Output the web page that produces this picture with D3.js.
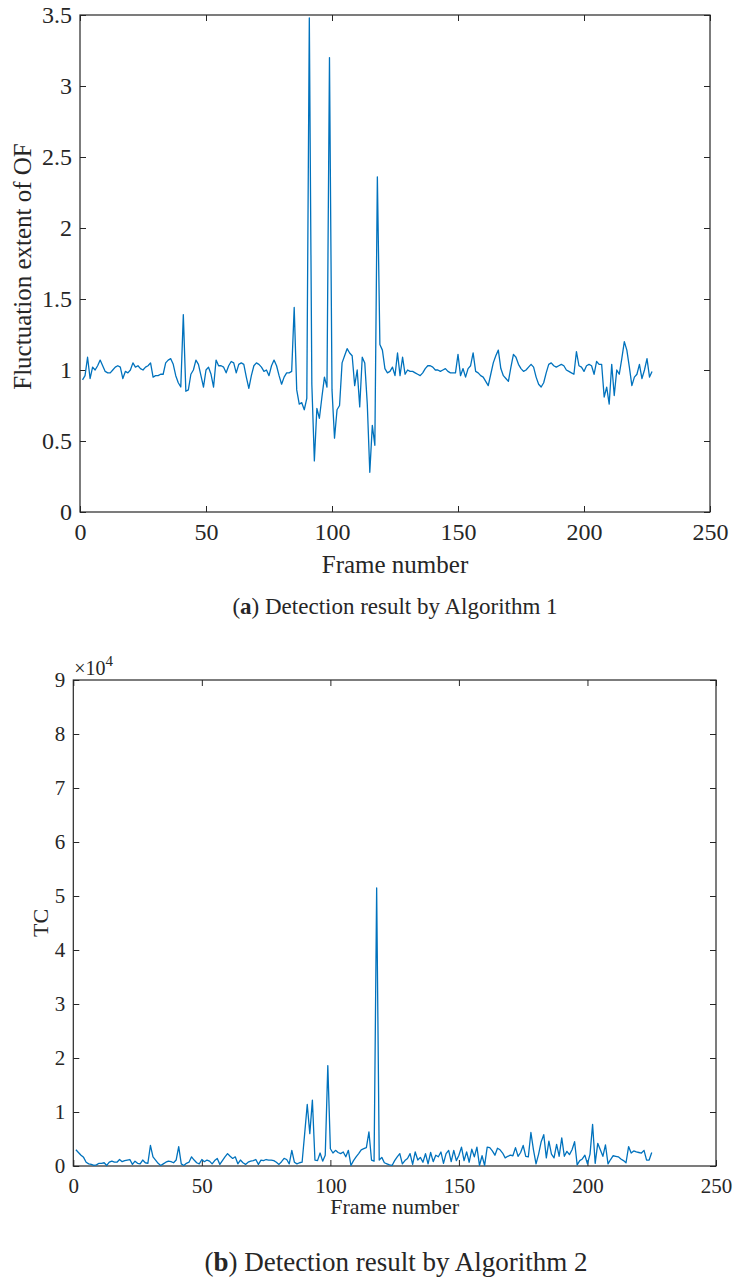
<!DOCTYPE html>
<html>
<head>
<meta charset="utf-8">
<script src="https://cdn.jsdelivr.net/npm/d3@7"></script>
<style>
  body { margin: 0; background: #fff; }
  svg text { font-family: "Liberation Serif", "Times New Roman", serif; fill: #262626; }
</style>
</head>
<body>
<svg id="chart" width="737" height="1283"></svg>
<script>
// panel (a): fluctuation extent of optical flow, frames 1..227
const ofValues = [
  0.93, 0.96, 1.09, 0.94, 1.02, 1.00, 1.03, 1.07, 1.03, 0.99,
  0.98, 0.98, 1.00, 1.02, 1.03, 1.02, 0.94, 0.99, 0.98, 1.00,
  1.05, 1.02, 1.03, 1.01, 1.00, 1.02, 1.03, 1.05, 0.95, 0.96,
  0.96, 0.97, 0.97, 1.05, 1.07, 1.08, 1.04, 0.96, 0.91, 0.88,
  1.39, 0.85, 0.86, 0.97, 1.00, 1.07, 1.04, 0.96, 0.88, 1.00,
  1.02, 0.97, 0.88, 1.07, 1.03, 1.03, 1.02, 0.98, 1.03, 1.06,
  1.05, 0.98, 1.04, 1.05, 1.04, 0.95, 0.87, 0.96, 1.03, 1.05,
  1.04, 1.02, 0.99, 1.00, 0.96, 1.03, 1.07, 1.03, 0.96, 0.90,
  0.95, 0.98, 0.98, 0.99, 1.44, 0.86, 0.76, 0.77, 0.72, 0.80,
  3.48, 0.90, 0.36, 0.73, 0.66, 0.81, 0.95, 0.88, 3.20, 0.86,
  0.52, 0.72, 0.75, 1.05, 1.10, 1.15, 1.12, 1.10, 0.89, 1.00,
  0.74, 1.09, 1.05, 0.76, 0.28, 0.61, 0.47, 2.36, 1.18, 1.14,
  1.01, 0.98, 0.99, 1.02, 0.96, 1.12, 0.96, 1.09, 0.97, 1.00,
  0.99, 0.99, 0.98, 0.97, 0.96, 0.98, 1.01, 1.03, 1.03, 1.02,
  1.00, 1.00, 0.99, 1.00, 1.01, 0.99, 0.98, 0.98, 0.98, 1.11,
  0.96, 1.01, 0.95, 1.01, 1.03, 1.12, 0.99, 0.98, 0.96, 0.95,
  0.92, 0.89, 0.97, 1.05, 1.10, 1.14, 1.01, 0.96, 0.94, 0.92,
  1.02, 1.11, 1.09, 1.04, 1.01, 0.99, 1.00, 1.02, 1.04, 1.02,
  0.95, 0.90, 0.88, 0.91, 0.98, 1.04, 1.05, 1.03, 1.02, 1.03,
  1.04, 1.03, 1.00, 0.99, 0.98, 0.97, 1.13, 1.03, 1.02, 0.99,
  1.03, 1.04, 1.03, 0.97, 1.06, 1.04, 1.04, 0.81, 0.88, 0.76,
  1.04, 0.82, 1.00, 0.97, 1.08, 1.20, 1.14, 1.02, 0.89, 0.95,
  0.97, 1.04, 0.94, 1.00, 1.08, 0.95, 0.99
];

// panel (b): TC in units of 10^4, frames 1..225
const tcValues = [
  0.30, 0.25, 0.20, 0.16, 0.07, 0.04, 0.03, 0.01, 0.02, 0.05,
  0.05, 0.06, 0.01, 0.07, 0.09, 0.07, 0.07, 0.12, 0.08, 0.10,
  0.11, 0.12, 0.03, 0.09, 0.05, 0.04, 0.11, 0.06, 0.05, 0.38,
  0.17, 0.11, 0.05, 0.01, 0.04, 0.07, 0.09, 0.08, 0.06, 0.11,
  0.36, 0.04, 0.01, 0.05, 0.07, 0.17, 0.11, 0.06, 0.04, 0.12,
  0.08, 0.11, 0.09, 0.04, 0.10, 0.14, 0.03, 0.10, 0.17, 0.23,
  0.18, 0.14, 0.17, 0.04, 0.11, 0.06, 0.03, 0.07, 0.09, 0.10,
  0.12, 0.03, 0.11, 0.10, 0.12, 0.11, 0.11, 0.10, 0.07, 0.03,
  0.08, 0.14, 0.12, 0.04, 0.29, 0.07, 0.04, 0.06, 0.07, 0.60,
  1.14, 0.60, 1.22, 0.11, 0.10, 0.24, 0.09, 0.20, 1.86, 0.32,
  0.24, 0.29, 0.25, 0.23, 0.26, 0.17, 0.29, 0.01, 0.10, 0.17,
  0.23, 0.30, 0.32, 0.34, 0.63, 0.11, 0.09, 5.15, 0.11, 0.16,
  0.06, 0.04, 0.02, 0.01, 0.10, 0.17, 0.23, 0.04, 0.10, 0.14,
  0.23, 0.03, 0.26, 0.11, 0.16, 0.07, 0.23, 0.04, 0.25, 0.08,
  0.20, 0.17, 0.26, 0.05, 0.23, 0.29, 0.08, 0.29, 0.10, 0.20,
  0.35, 0.10, 0.26, 0.07, 0.31, 0.17, 0.35, 0.01, 0.19, 0.01,
  0.35, 0.34, 0.28, 0.20, 0.33, 0.30, 0.24, 0.15, 0.18, 0.20,
  0.19, 0.34, 0.18, 0.25, 0.38, 0.18, 0.17, 0.62, 0.30, 0.04,
  0.22, 0.45, 0.58, 0.15, 0.46, 0.22, 0.15, 0.40, 0.18, 0.52,
  0.18, 0.27, 0.21, 0.30, 0.45, 0.02, 0.10, 0.13, 0.20, 0.04,
  0.22, 0.77, 0.05, 0.42, 0.30, 0.18, 0.39, 0.04, 0.12, 0.19,
  0.18, 0.17, 0.13, 0.10, 0.06, 0.36, 0.24, 0.28, 0.26, 0.25,
  0.24, 0.29, 0.11, 0.11, 0.25
];

const xTicks = [0, 50, 100, 150, 200, 250];
const ofTicks = [0, 0.5, 1, 1.5, 2, 2.5, 3, 3.5];
const tcTicks = [0, 1, 2, 3, 4, 5, 6, 7, 8, 9];

const lineColor = "#0072BD";
const axisColor = "#262626";

const svg = d3.select("#chart");
svg.append("rect").attr("width", 737).attr("height", 1283).attr("fill", "#fff");

function drawPanel(cfg) {
  const { box, values, yDomain, yTicks, yFormat, tickFont, tickPad } = cfg;

  const x = d3.scaleLinear().domain([0, 250]).range([box.left, box.right]);
  const y = d3.scaleLinear().domain(yDomain).range([box.bottom, box.top]);

  const g = svg.append("g");

  const styleAxis = sel => {
    sel.select(".domain").remove();
    sel.selectAll(".tick line").attr("stroke", axisColor).attr("stroke-width", 1);
    sel.selectAll(".tick text")
      .style("font-size", tickFont + "px")
      .attr("fill", axisColor);
  };

  g.append("g")
    .attr("transform", `translate(0,${box.bottom})`)
    .call(d3.axisBottom(x).tickValues(xTicks).tickSize(-6).tickPadding(tickPad.x).tickFormat(d3.format("d")))
    .call(styleAxis);

  g.append("g")
    .attr("transform", `translate(0,${box.top})`)
    .call(d3.axisTop(x).tickValues(xTicks).tickSize(-6).tickFormat(""))
    .call(styleAxis);

  g.append("g")
    .attr("transform", `translate(${box.left},0)`)
    .call(d3.axisLeft(y).tickValues(yTicks).tickSize(-6).tickPadding(tickPad.y).tickFormat(yFormat))
    .call(styleAxis);

  g.append("g")
    .attr("transform", `translate(${box.right},0)`)
    .call(d3.axisRight(y).tickValues(yTicks).tickSize(-6).tickFormat(""))
    .call(styleAxis);

  g.append("rect")
    .attr("x", box.left)
    .attr("y", box.top)
    .attr("width", box.right - box.left)
    .attr("height", box.bottom - box.top)
    .attr("fill", "none")
    .attr("stroke", axisColor)
    .attr("stroke-width", 1.2);

  const line = d3.line()
    .x((d, i) => x(i + 1))
    .y(d => y(d));

  g.append("path")
    .datum(values)
    .attr("fill", "none")
    .attr("stroke", lineColor)
    .attr("stroke-width", 1.3)
    .attr("stroke-linejoin", "round")
    .attr("d", line);

  return { g, x, y };
}

// panel (a)
const boxA = { left: 80, top: 15, right: 710, bottom: 512 };
const a = drawPanel({
  box: boxA,
  values: ofValues,
  yDomain: [0, 3.5],
  yTicks: ofTicks,
  yFormat: d3.format("~g"),
  tickFont: 24,
  tickPad: { x: 11, y: 8 }
});

a.g.append("text")
  .attr("x", (boxA.left + boxA.right) / 2)
  .attr("y", 573)
  .attr("text-anchor", "middle")
  .style("font-size", "25px")
  .text("Frame number");

a.g.append("text")
  .attr("transform", `translate(31,${(boxA.top + boxA.bottom) / 2 + 3}) rotate(-90)`)
  .attr("text-anchor", "middle")
  .style("font-size", "25px")
  .text("Fluctuation extent of OF");

const capA = svg.append("text")
  .attr("x", 395)
  .attr("y", 614)
  .attr("text-anchor", "middle")
  .style("font-size", "23px");
capA.append("tspan").text("(");
capA.append("tspan").attr("font-weight", "bold").text("a");
capA.append("tspan").text(") Detection result by Algorithm 1");

// panel (b)
const boxB = { left: 73.3, top: 680, right: 716, bottom: 1166 };
const b = drawPanel({
  box: boxB,
  values: tcValues,
  yDomain: [0, 9],
  yTicks: tcTicks,
  yFormat: d3.format("d"),
  tickFont: 21,
  tickPad: { x: 12, y: 8 }
});

const expo = b.g.append("text")
  .attr("x", boxB.left + 1)
  .attr("y", 675)
  .style("font-size", "20px");
expo.append("tspan").text("\u00d710");
expo.append("tspan").attr("dy", -9).style("font-size", "15px").text("4");

b.g.append("text")
  .attr("x", (boxB.left + boxB.right) / 2)
  .attr("y", 1214)
  .attr("text-anchor", "middle")
  .style("font-size", "22px")
  .text("Frame number");

b.g.append("text")
  .attr("transform", `translate(48,${(boxB.top + boxB.bottom) / 2}) rotate(-90)`)
  .attr("text-anchor", "middle")
  .style("font-size", "22px")
  .text("TC");

const capB = svg.append("text")
  .attr("x", 396)
  .attr("y", 1271)
  .attr("text-anchor", "middle")
  .style("font-size", "27px");
capB.append("tspan").text("(");
capB.append("tspan").attr("font-weight", "bold").text("b");
capB.append("tspan").text(") Detection result by Algorithm 2");
</script>
</body>
</html>
